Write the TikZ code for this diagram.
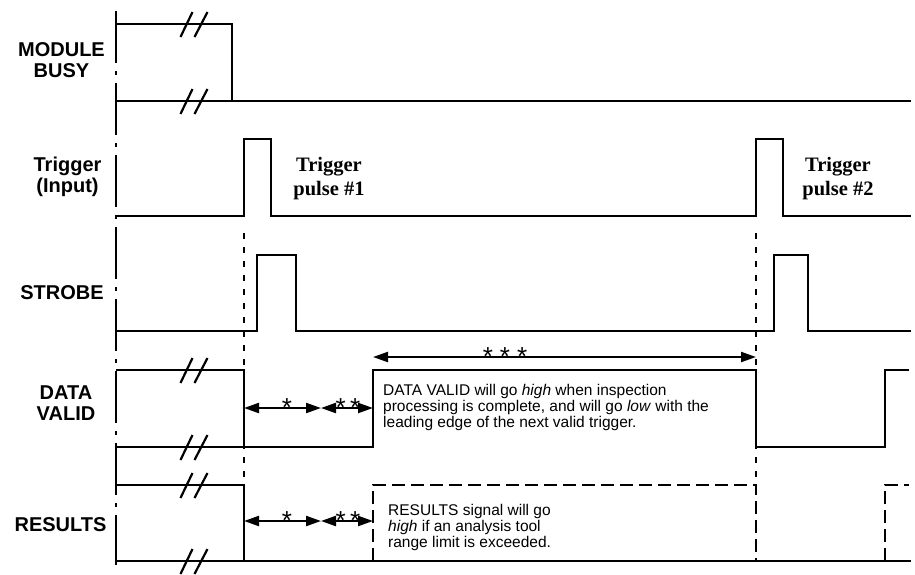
\documentclass[tikz,border=0pt]{standalone}
\usepackage{fontspec}
\setmainfont{Liberation Serif}
\setsansfont{Liberation Sans}
\usetikzlibrary{arrows.meta}

\begin{document}
\begin{tikzpicture}[x=1pt, y=-1pt,
		sig/.style={line width=2.4pt},
		res/.style={line width=2.4pt, dash pattern=on 13pt off 6pt},
		guide/.style={line width=2.2pt, dash pattern=on 6pt off 8pt},
		axisline/.style={line width=2.4pt, dash pattern=on 52pt off 8pt on 4pt off 8pt},
		lbl/.style={font=\fontsize{20}{21}\selectfont\sffamily\bfseries, align=center, inner sep=0pt},
		plbl/.style={font=\fontsize{20.5}{24}\selectfont\bfseries, align=center, inner sep=0pt},
		note/.style={font=\fontsize{15.5}{16}\selectfont\sffamily, align=left, anchor=north west, inner sep=0pt},
		star/.style={font=\fontsize{26}{26}\selectfont\sffamily, inner sep=0pt},
		dim/.style={{Triangle[length=15pt,width=10pt]}-{Triangle[length=15pt,width=10pt]}, line width=2.2pt},
		brk/.pic={\draw[line width=2.2pt] (-13.5,13) -- (-1.5,-12) (0.5,13) -- (13.5,-12);}
		]
		\useasboundingbox (0,0) rectangle (915,574);

		% signal names
		\node[lbl] (lmb) at (61.5,60.6) {MODULE\\BUSY};
		\node[lbl] (ltr) at (67.5,177) {Trigger\\(Input)};
		\node[lbl] (lst) at (62,293) {STROBE};
		\node[lbl] (ldv) at (66,403) {DATA\\VALID};
		\node[lbl] (lrs) at (60.5,525) {RESULTS};

		\draw[axisline] (116,11) -- (116,565);

		% MODULE BUSY
		\draw[sig] (116,24) -- (232,24) -- (232,101);
		\draw[sig] (116,101) -- (911,101);

		% Trigger
		\draw[sig] (116,216) -- (244,216) -- (244,139) -- (271,139) -- (271,216)
			-- (756,216) -- (756,139) -- (783,139) -- (783,216) -- (911,216);
		\node[plbl] (p1) at (329,178.5) {Trigger\\pulse \#1};
		\node[plbl] (p2) at (838,178.5) {Trigger\\pulse \#2};

		% STROBE
		\draw[sig] (116,331) -- (257,331) -- (257,255) -- (296,255) -- (296,331)
			-- (774,331) -- (774,255) -- (808,255) -- (808,331) -- (911,331);

		\draw[guide] (244,233) -- (244,561);
		\draw[guide] (756,233) -- (756,485);

		% DATA VALID
		\draw[sig] (116,370) -- (244,370) -- (244,447);
		\draw[sig] (116,447) -- (373,447) -- (373,370) -- (756,370) -- (756,447)
			-- (885,447) -- (885,370) -- (909,370);

		% RESULTS
		\draw[sig] (116,485) -- (244,485) -- (244,561);
		\draw[sig] (116,561) -- (911,561);
		\draw[res] (373,561) -- (373,485) -- (756,485) -- (756,561);
		\draw[res] (885,561) -- (885,485) -- (909,485);

		\foreach \y in {24,101,370,447,485,561}
			\pic at (194,\y) {brk};

		% timing marks
		\coordinate (a0) at (244,408);
		\coordinate (a1) at (321,408);
		\coordinate (a2) at (373,408);
		\coordinate (b0) at (244,521);
		\coordinate (b1) at (321,521);
		\coordinate (b2) at (373,521);
		\coordinate (c0) at (373,357);
		\coordinate (c1) at (756,357);
		\draw[dim] (a0) -- (a1);
		\draw[dim] (a1) -- (a2);
		\draw[dim] (b0) -- (b1);
		\draw[dim] (b1) -- (b2);
		\draw[dim] (c0) -- (c1);
		\node[star] (s1) at (287,408) {*};
		\node[star] (s2) at (348,408) {*\,*};
		\node[star] (s3) at (287,521) {*};
		\node[star] (s4) at (348,521) {*\,*};
		\node[star] (s5) at (505,357) {*\hspace{7pt}*\hspace{7pt}*};

		\node[note] (ndv) at (383,384) {DATA VALID will go \textit{high} when inspection\\
			processing is complete, and will go \textit{low} with the\\
			leading edge of the next valid trigger.};
		\node[note] (nrs) at (388,504) {RESULTS signal will go\\
			\textit{high} if an analysis tool\\
			range limit is exceeded.};
	\end{tikzpicture}
\end{document}
